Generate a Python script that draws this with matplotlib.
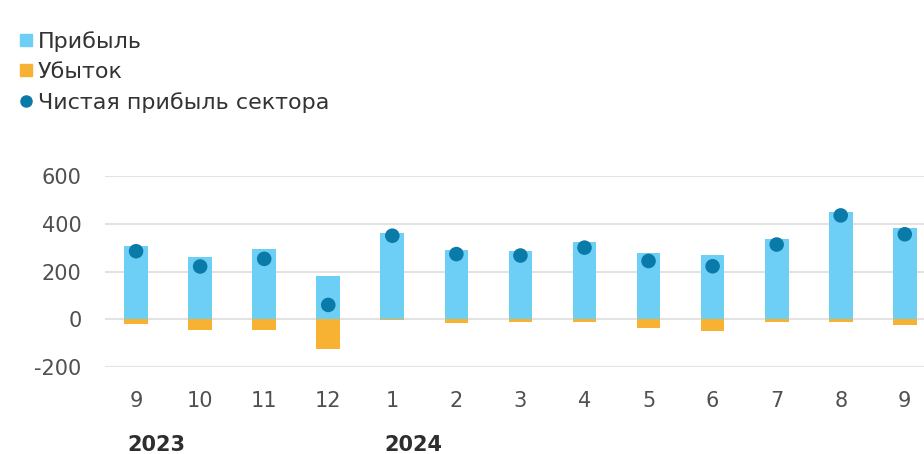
import numpy as np
import matplotlib
matplotlib.use("Agg")
import matplotlib.pyplot as plt
from matplotlib.lines import Line2D

plt.rcParams['font.family'] = ['DejaVu Sans']
plt.rcParams['axes.unicode_minus'] = False

months = ["9", "10", "11", "12", "1", "2", "3", "4", "5", "6", "7", "8", "9"]
years = ["2023", "2024"]
year_pos = [0, 4]
profit = [305, 260, 295, 183, 362, 290, 288, 325, 276, 270, 335, 450, 383]
loss = [-20, -43, -45, -125, -3, -14, -12, -12, -37, -50, -12, -10, -25]
net = [285, 221, 253, 60, 350, 273, 267, 300, 244, 222, 313, 435, 356]

c_profit = "#6dcff6"
c_loss = "#f7b234"
c_net = "#0a7aa8"
c_text = "#505050"

fig = plt.figure(figsize=(9.24, 4.54), dpi=100)
ax = fig.add_axes([0.114, 0.1916, 0.886, 0.4207])

x = np.arange(len(months))
ax.bar(x, profit, width=0.37, color=c_profit, zorder=2)
ax.bar(x, loss, width=0.37, color=c_loss, zorder=2)
ax.scatter(x, net, s=110, color=c_net, zorder=3, edgecolors="none")

ax.set_ylim(-200, 600)
ax.set_xlim(-0.48, 12.3)
ax.set_yticks([-200, 0, 200, 400, 600])
ax.set_xticks(x)
ax.set_xticklabels(months)
ax.yaxis.grid(True, color="#e3e3e3", linewidth=1.5, zorder=0)
ax.set_axisbelow(True)
for s in ax.spines.values():
    s.set_visible(False)
ax.tick_params(axis="both", length=0, labelsize=15, colors=c_text)
ax.tick_params(axis="x", pad=17)
ax.tick_params(axis="y", pad=17)

# year captions under the month row
for yl, p in zip(years, year_pos):
    ax.annotate(yl, xy=(p, 0), xycoords=("data", "axes fraction"),
                xytext=(-6, -56), textcoords="offset points",
                ha="left", va="center", fontsize=15, color="#2e2e2e",
                fontweight="semibold")

handles = [
    Line2D([], [], marker="s", linestyle="none", color=c_profit, markersize=9),
    Line2D([], [], marker="s", linestyle="none", color=c_loss, markersize=9),
    Line2D([], [], marker="o", linestyle="none", color=c_net, markersize=8),
]
labels = ["Прибыль", "Убыток", "Чистая прибыль сектора"]
fig.legend(handles, labels, loc="upper left", bbox_to_anchor=(0.0, 0.975),
           frameon=False, fontsize=16, handlelength=0.5, handletextpad=0.3,
           labelspacing=0.45, borderaxespad=0.5, labelcolor="#333333")

fig.savefig("out.png", dpi=100)
